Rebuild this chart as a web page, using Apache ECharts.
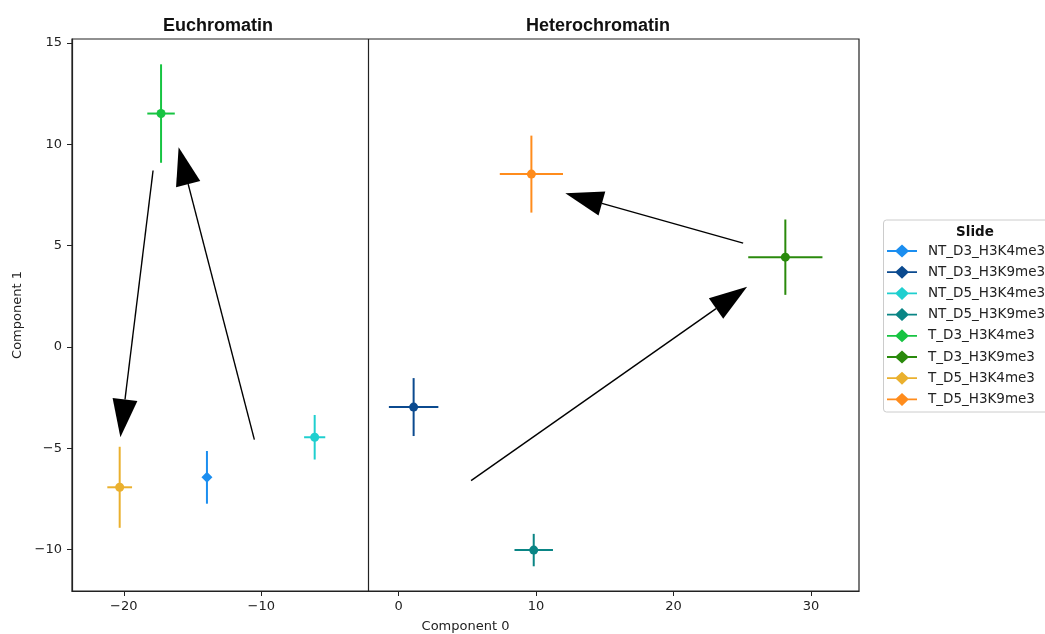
<!DOCTYPE html>
<html>
<head>
<meta charset="utf-8">
<title>Euchromatin / Heterochromatin</title>
<script src="https://cdn.jsdelivr.net/npm/echarts@6/dist/echarts.min.js"></script>
<style>
  html, body { margin: 0; padding: 0; background: #fff; }
  #chart { width: 1045px; height: 634px; }
</style>
</head>
<body>
<div id="chart"></div>
<script>
// slides (one cross per slide: mean +/- error on both components)
const slideNames = [
  'NT_D3_H3K4me3', 'NT_D3_H3K9me3', 'NT_D5_H3K4me3', 'NT_D5_H3K9me3',
  'T_D3_H3K4me3', 'T_D3_H3K9me3', 'T_D5_H3K4me3', 'T_D5_H3K9me3'
];
const centerX = [-13.95, 1.09, -6.11, 9.83, -17.29, 28.14, -20.3, 9.66];
const centerY = [-6.44, -2.97, -4.46, -10.03, 11.52, 4.43, -6.93, 8.53];
const errX = [0.25, 1.8, 0.77, 1.4, 1.0, 2.7, 0.9, 2.3];
const errY = [1.3, 1.43, 1.1, 0.8, 2.43, 1.86, 2.0, 1.9];

// arrows (tail -> head), in data units
const arrowFromX = [-17.87, -10.5, 25.07, 5.27];
const arrowFromY = [8.71, -4.58, 5.12, -6.6];
const arrowToX = [-20.25, -16.01, 12.13, 25.36];
const arrowToY = [-4.46, 9.85, 7.59, 2.97];

// axes
const xTicks = [-20, -10, 0, 10, 20, 30];
const yTicks = [-10, -5, 0, 5, 10, 15];
const panelSplitX = -2.2;

const slideColors = ['#1B8EF0', '#0B4A8F', '#1FCFCF', '#0A8585', '#17C442', '#2A8A0C', '#EAB02E', '#FF8C1C'];
const diamondSlides = ['NT_D3_H3K4me3'];

const tickFont = { fontFamily: 'DejaVu Sans', fontSize: 13, color: '#222' };
const fmtMinus = v => String(v).replace('-', '\u2212');

const renderCross = (params, api) => {
  const cx = api.value(0), cy = api.value(1), ex = api.value(2), ey = api.value(3);
  const color = api.visual('color');
  const left = api.coord([cx - ex, cy]);
  const right = api.coord([cx + ex, cy]);
  const top = api.coord([cx, cy + ey]);
  const bottom = api.coord([cx, cy - ey]);
  const mid = api.coord([cx, cy]);
  const lineStyle = { stroke: color, lineWidth: 2 };
  let marker;
  if (diamondSlides.includes(params.seriesName)) {
    const d = 5.5;
    marker = {
      type: 'polygon',
      shape: { points: [[mid[0], mid[1] - d], [mid[0] + d, mid[1]], [mid[0], mid[1] + d], [mid[0] - d, mid[1]]] },
      style: { fill: color }
    };
  } else {
    marker = { type: 'circle', shape: { cx: mid[0], cy: mid[1], r: 4.5 }, style: { fill: color } };
  }
  return {
    type: 'group',
    children: [
      { type: 'line', shape: { x1: left[0], y1: left[1], x2: right[0], y2: right[1] }, style: lineStyle },
      { type: 'line', shape: { x1: top[0], y1: top[1], x2: bottom[0], y2: bottom[1] }, style: lineStyle },
      marker
    ]
  };
};

const renderArrow = (params, api) => {
  const p0 = api.coord([api.value(0), api.value(1)]);
  const p1 = api.coord([api.value(2), api.value(3)]);
  const dx = p1[0] - p0[0], dy = p1[1] - p0[1];
  const len = Math.sqrt(dx * dx + dy * dy);
  const ux = dx / len, uy = dy / len;
  const headLen = 38, halfW = 12.5;
  const bx = p1[0] - ux * headLen, by = p1[1] - uy * headLen;
  return {
    type: 'group',
    children: [
      { type: 'line', shape: { x1: p0[0], y1: p0[1], x2: bx, y2: by }, style: { stroke: '#000', lineWidth: 1.4 } },
      {
        type: 'polygon',
        shape: { points: [[p1[0], p1[1]], [bx - uy * halfW, by + ux * halfW], [bx + uy * halfW, by - ux * halfW]] },
        style: { fill: '#000' }
      }
    ]
  };
};

const crossSeries = slideNames.map((name, i) => ({
  name: name,
  type: 'custom',
  renderItem: renderCross,
  itemStyle: { color: slideColors[i] },
  encode: { x: 0, y: 1 },
  data: [[centerX[i], centerY[i], errX[i], errY[i]]],
  z: 3
}));

const arrowSeries = {
  name: 'arrows',
  type: 'custom',
  renderItem: renderArrow,
  encode: { x: [0, 2], y: [1, 3] },
  data: arrowFromX.map((x, i) => [x, arrowFromY[i], arrowToX[i], arrowToY[i]]),
  z: 4,
  markLine: {
    silent: true,
    symbol: 'none',
    label: { show: false },
    lineStyle: { color: '#222', width: 1.2, type: 'solid' },
    data: [{ xAxis: panelSplitX }]
  }
};

const chart = echarts.init(document.getElementById('chart'), null, { renderer: 'canvas' });

chart.setOption({
  animation: false,
  backgroundColor: '#fff',
  grid: {
    left: 72, right: 186, top: 39, bottom: 43,
    outerBoundsMode: 'none',
    containLabel: false,
    show: true, borderColor: '#222', borderWidth: 1.2, backgroundColor: 'transparent'
  },
  xAxis: {
    type: 'value', min: -23.77, max: 33.5,
    name: 'Component 0', nameLocation: 'middle', nameGap: 29,
    nameTextStyle: { fontFamily: 'DejaVu Sans', fontSize: 13, color: '#222' },
    axisLine: { show: true, onZero: false, lineStyle: { color: '#222', width: 1.2 } },
    splitLine: { show: false },
    axisTick: { show: true, length: 5, lineStyle: { color: '#222', width: 1 }, customValues: xTicks },
    axisLabel: Object.assign({ margin: 9, customValues: xTicks, formatter: fmtMinus }, tickFont)
  },
  yAxis: {
    type: 'value', min: -12.05, max: 15.2,
    name: 'Component 1', nameLocation: 'middle', nameGap: 40,
    nameTextStyle: { fontFamily: 'DejaVu Sans', fontSize: 13, color: '#222' },
    axisLine: { show: true, onZero: false, lineStyle: { color: '#222', width: 1.2 } },
    splitLine: { show: false },
    axisTick: { show: true, length: 5, lineStyle: { color: '#222', width: 1 }, customValues: yTicks },
    axisLabel: Object.assign({ margin: 10, customValues: yTicks, formatter: fmtMinus }, tickFont)
  },
  title: [
    { text: 'Slide', left: 970, top: 220, textAlign: 'center',
      textStyle: { fontFamily: 'DejaVu Sans', fontWeight: 'bold', fontSize: 13.5, color: '#111' } }
  ],
  legend: {
    orient: 'vertical',
    left: 887, top: 244,
    padding: 0,
    itemWidth: 30, itemHeight: 13, itemGap: 7.2,
    icon: 'path://M0,5.6H9L15,0L21,5.6H30V7.4H21L15,13L9,7.4H0Z',
    data: slideNames,
    selectedMode: false,
    textStyle: { fontFamily: 'DejaVu Sans', fontSize: 13.5, color: '#222', padding: [0, 0, 0, 6] }
  },
  graphic: [
    { type: 'rect', left: 883, top: 219.5, shape: { width: 200, height: 192, r: 3 },
      style: { fill: '#fff', stroke: '#cccccc', lineWidth: 1 }, z: -1 },
    { type: 'text', x: 218, y: 26,
      style: { text: 'Euchromatin', fill: '#111', font: 'bold 18px "Liberation Sans", Arial, sans-serif',
               textAlign: 'center', textVerticalAlign: 'middle' } },
    { type: 'text', x: 598, y: 26,
      style: { text: 'Heterochromatin', fill: '#111', font: 'bold 18px "Liberation Sans", Arial, sans-serif',
               textAlign: 'center', textVerticalAlign: 'middle' } }
  ],
  series: crossSeries.concat([arrowSeries])
});
</script>
</body>
</html>
